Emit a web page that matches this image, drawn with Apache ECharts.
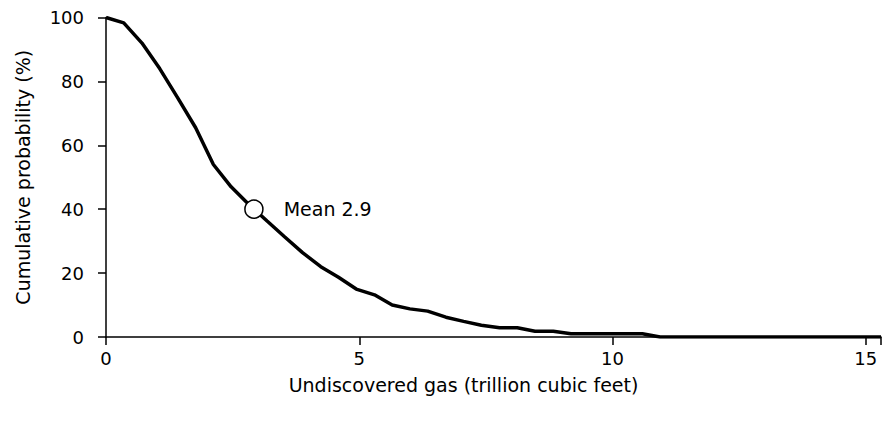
<!DOCTYPE html>
<html>
<head>
<meta charset="utf-8">
<script src="https://cdn.jsdelivr.net/npm/echarts@6/dist/echarts.min.js"></script>
<style>html,body{margin:0;padding:0;background:#fff}#c{width:884px;height:426px}</style>
</head>
<body>
<div id="c"></div>
<script>
var gasTcf = [0, 0.35, 0.71, 1.06, 1.41, 1.77, 2.12, 2.47, 2.82, 3.18, 3.53, 3.88, 4.24, 4.59, 4.94, 5.30, 5.65, 6.00, 6.35, 6.71, 7.06, 7.41, 7.77, 8.12, 8.47, 8.83, 9.18, 9.53, 9.88, 10.24, 10.59, 10.94, 11.30, 12.0, 13.0, 14.0, 15.0, 15.3];
var cumProb = [100, 98.3, 92, 84, 75, 65.5, 54, 47, 41.5, 36.3, 31.3, 26.4, 22, 18.7, 15, 13.2, 10, 8.8, 8.1, 6.2, 4.9, 3.7, 2.9, 2.9, 1.8, 1.8, 1.0, 1.0, 1.0, 1.0, 1.0, 0, 0, 0, 0, 0, 0, 0];
var meanPoint = [2.92, 40];
var meanLabel = 'Mean 2.9';
var xTicks = [0, 5, 10, 15];
var yTicks = [0, 20, 40, 60, 80, 100];

var font = 'DejaVu Sans, Verdana, sans-serif';
var chart = echarts.init(document.getElementById('c'), null, {renderer: 'svg'});
var lineData = gasTcf.map(function (x, i) { return [x, cumProb[i]]; });
chart.setOption({
  animation: false,
  grid: {left: 106, right: 2, top: 17.5, bottom: 89},
  xAxis: {
    type: 'value', min: 0, max: 15.3, interval: 5,
    splitLine: {show: false},
    axisLine: {lineStyle: {color: '#000', width: 1.5}},
    axisTick: {show: true, length: 8, lineStyle: {color: '#000', width: 1.5}},
    axisLabel: {color: '#000', fontSize: 18, fontFamily: font, margin: 12,
      formatter: function (v) { return xTicks.indexOf(v) >= 0 ? String(v) : ''; }},
    name: 'Undiscovered gas (trillion cubic feet)', nameLocation: 'middle', nameGap: 38,
    nameTextStyle: {color: '#000', fontSize: 19, fontFamily: font, padding: [0, 60, 0, 0]}
  },
  yAxis: {
    type: 'value', min: 0, max: 100, interval: 20,
    splitLine: {show: false},
    axisLine: {show: true, lineStyle: {color: '#000', width: 1.5}},
    axisTick: {show: true, length: 8, lineStyle: {color: '#000', width: 1.5}},
    axisLabel: {color: '#000', fontSize: 18, fontFamily: font, margin: 22,
      formatter: function (v) { return yTicks.indexOf(v) >= 0 ? String(v) : ''; }},
    name: 'Cumulative probability (%)', nameLocation: 'middle', nameGap: 74,
    nameTextStyle: {color: '#000', fontSize: 19, fontFamily: font}
  },
  series: [{
    type: 'line', data: lineData, showSymbol: false, smooth: false,
    lineStyle: {color: '#000', width: 3.5}, z: 2
  }, {
    type: 'scatter', data: [meanPoint], symbol: 'circle', symbolSize: 18,
    itemStyle: {color: '#fff', borderColor: '#000', borderWidth: 1.5, opacity: 1}, z: 3,
    label: {show: true, position: 'right', distance: 20, formatter: meanLabel,
      color: '#000', fontSize: 19, fontFamily: font}
  }]
});
</script>
</body>
</html>
